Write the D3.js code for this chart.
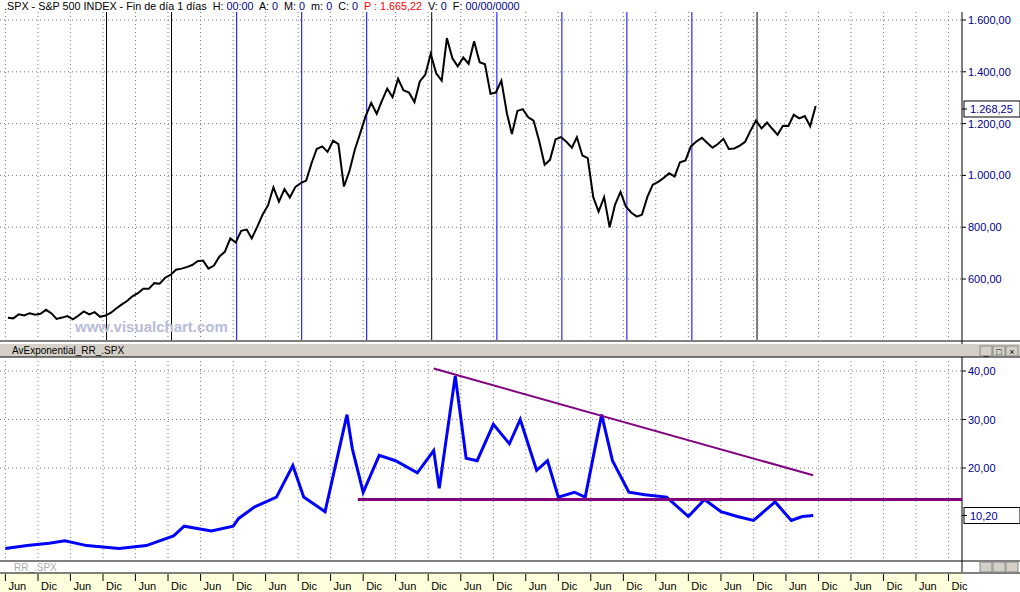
<!DOCTYPE html>
<html><head><meta charset="utf-8">
<script src="https://cdn.jsdelivr.net/npm/d3@7"></script>
<style>body{margin:0;background:#fff}text{font-family:Arial,"Liberation Sans",sans-serif}</style>
</head><body><div id="chart"></div>
<script>
// monthly S&P 500 closes, Jun 1993 .. Nov 2005
const priceStart = '1993-06'
const priceValues = [
  450, 448, 464, 459, 468, 462, 466,
  481, 467, 446, 451, 457, 444, 458, 475, 463, 472, 454, 459,
  470, 487, 501, 515, 533, 545, 562, 562, 584, 582, 605, 616,
  636, 640, 646, 654, 669, 671, 640, 652, 687, 705, 757, 741,
  786, 791, 757, 801, 848, 885, 954, 899, 947, 915, 955, 970,
  980, 1049, 1102, 1112, 1091, 1134, 1121, 957, 1017, 1099, 1164, 1229,
  1280, 1238, 1286, 1335, 1302, 1373, 1329, 1320, 1283, 1363, 1389, 1469,
  1394, 1366, 1530, 1452, 1421, 1455, 1431, 1518, 1437, 1429, 1315, 1320,
  1366, 1240, 1160, 1249, 1256, 1224, 1211, 1134, 1041, 1060, 1139, 1148,
  1130, 1107, 1147, 1077, 1067, 916, 860, 916, 800, 886, 936, 880,
  856, 841, 848, 917, 964, 975, 990, 1008, 996, 1051, 1058, 1112,
  1131, 1145, 1126, 1107, 1121, 1141, 1102, 1104, 1115, 1130, 1174, 1212,
  1181, 1204, 1181, 1157, 1192, 1191, 1234, 1220, 1229, 1190, 1268
]

// exponential average of volatility (RR_.SPX)
const volDates = ['1993-06','1993-10','1994-02','1994-05','1994-09','1995-03','1995-08','1996-01','1996-03','1996-08','1996-12','1997-01',
  '1997-04','1997-08','1997-11','1998-01','1998-05','1998-09','1998-10','1998-12','1999-03','1999-06','1999-10','2000-01','2000-02',
  '2000-05','2000-07','2000-09','2000-12','2001-03','2001-05','2001-08','2001-10','2001-12','2002-03','2002-05','2002-08','2002-10',
  '2003-01','2003-04','2003-08','2003-12','2004-03','2004-06','2004-09','2004-12','2005-04','2005-07','2005-09','2005-11']
const volValues = [3.4, 4, 4.5, 5, 4, 3.4, 4, 6, 8, 7, 8, 9.6,
  12, 14, 20.5, 14, 11, 31, 24, 15, 22.6, 21.5, 19, 23.6, 15.8,
  39, 22, 21.5, 29, 25, 30, 19.5, 21.5, 14, 15, 14, 31, 21.5,
  15, 14.5, 14, 10, 13.5, 11, 10, 9.2, 13, 9.2, 10, 10.2]

const colouredLines = [1995,1996,1997,1998,1999,2000,2001,2002,2003,2004,2005]
const blackLines = [1995,1996,2000,2005]
const priceTicks = [600,800,1000,1200,1400,1600]
const volTicks = [20,30,40]
const trendDown = [['2000-01', 40.5], ['2005-11', 18.5]]
const supportLevel = 13.5

const W = 1020, H = 592, axisX = 962
const parse = d3.timeParse('%Y-%m')
const fmt = d3.formatLocale({decimal: ',', thousands: '.', grouping: [3], currency: ['', '']}).format(',.2f')

const x = d3.scaleTime().domain([new Date(1993, 11, 1), new Date(1994, 11, 1)]).range([38, 103])
const yP = d3.scaleLinear().domain([600, 1600]).range([279, 20])
const yV = d3.scaleLinear().domain([20, 40]).range([468, 371])

const prices = priceValues.map((v, i) => {
  const d = parse(priceStart); d.setMonth(d.getMonth() + i, 15); return {d, v}
})
const vols = volDates.map((s, i) => ({d: parse(s), v: volValues[i]}))

const svg = d3.select('#chart').append('svg').attr('width', W).attr('height', H)
svg.append('rect').attr('width', W).attr('height', H).attr('fill', '#fff')

// half-year ticks
const halfTicks = []
for (let y = 1993; y <= 2008; y++) {
  halfTicks.push(new Date(y, 5, 1)); halfTicks.push(new Date(y, 11, 1))
}
const ticks = halfTicks.filter(t => x(t) >= 0 && x(t) < axisX)

function grid(g, y0, y1, hvals, ys) {
  g.selectAll('.v').data(ticks).join('line').attr('x1', d => x(d)).attr('x2', d => x(d))
    .attr('y1', y0).attr('y2', y1).attr('stroke', '#777').attr('stroke-dasharray', '1,3')
  g.append('g').selectAll('line').data(hvals).join('line').attr('x1', 0).attr('x2', axisX)
    .attr('y1', d => ys(d)).attr('y2', d => ys(d)).attr('stroke', '#777').attr('stroke-dasharray', '1,3')
}

// top panel
const topG = svg.append('g')
grid(topG.append('g'), 12, 340, priceTicks, yP)
topG.append('g').selectAll('line').data(colouredLines).join('line')
  .attr('x1', d => x(new Date(d, 0, 1)) - 2).attr('x2', d => x(new Date(d, 0, 1)) - 2)
  .attr('y1', 12).attr('y2', 340)
  .attr('stroke', d => blackLines.includes(d) ? '#000' : '#0000ff')
topG.append('text').attr('x', 75).attr('y', 332).attr('font-size', 15).attr('font-weight', 'bold')
  .attr('fill', '#b8bcd8').text('www.visualchart.com')
topG.append('path').datum(prices).attr('fill', 'none').attr('stroke', '#000').attr('stroke-width', 2)
  .attr('d', d3.line().x(d => x(d.d)).y(d => yP(d.v)))

// header
const hdr = svg.append('text').attr('x', 4).attr('y', 10).attr('font-size', 10.8)
const parts = [['.SPX - S&P 500 INDEX - Fin de día 1 días  H: ', '#000'], ['00:00', '#00008b'], ['  A: ', '#000'], ['0', '#00008b'],
  ['  M: ', '#000'], ['0', '#00008b'], ['  m: ', '#000'], ['0', '#00008b'], ['  C: ', '#000'], ['0', '#00008b'],
  ['  P : 1.665,22', '#ff0000'], ['  V: ', '#000'], ['0', '#00008b'], ['  F: ', '#000'], ['00/00/0000', '#00008b']]
parts.forEach(p => hdr.append('tspan').attr('fill', p[1]).attr('xml:space', 'preserve').text(p[0]))

// right price axis
svg.append('line').attr('x1', axisX).attr('x2', axisX).attr('y1', 12).attr('y2', 572).attr('stroke', '#000')
function axisLabels(vals, ys, f) {
  vals.forEach(v => {
    svg.append('line').attr('x1', axisX).attr('x2', axisX + 4).attr('y1', ys(v)).attr('y2', ys(v)).attr('stroke', '#000')
    svg.append('text').attr('x', axisX + 6).attr('y', ys(v) + 4).attr('font-size', 11).attr('fill', '#00008b').text(f(v))
  })
}
axisLabels(priceTicks, yP, fmt)
axisLabels(volTicks, yV, fmt)
function lastBox(y, label) {
  svg.append('rect').attr('x', axisX + 2).attr('y', y - 8).attr('width', 56).attr('height', 16).attr('fill', '#fff').attr('stroke', '#000')
  svg.append('line').attr('x1', axisX).attr('x2', axisX + 5).attr('y1', y).attr('y2', y).attr('stroke', '#000')
  svg.append('text').attr('x', axisX + 8).attr('y', y + 4).attr('font-size', 11).attr('fill', '#00008b').text(label)
}
lastBox(yP(priceValues[priceValues.length - 1]) + 3, fmt(1268.25))
lastBox(yV(volValues[volValues.length - 1]), fmt(10.2))

// panel separators
svg.append('line').attr('x1', 0).attr('x2', W).attr('y1', 341).attr('y2', 341).attr('stroke', '#000')
svg.append('rect').attr('x', 0).attr('y', 344).attr('width', W).attr('height', 13).attr('fill', '#d4d0c8')
svg.append('line').attr('x1', 0).attr('x2', W).attr('y1', 357).attr('y2', 357).attr('stroke', '#000')
svg.append('text').attr('x', 12).attr('y', 354).attr('font-size', 10).text('AvExponential_RR_.SPX')
;[980, 993, 1006].forEach((bx, i) => {
  svg.append('rect').attr('x', bx).attr('y', 346).attr('width', 12).attr('height', 10).attr('fill', '#d4d0c8').attr('stroke', '#888')
  svg.append('text').attr('x', bx + 6).attr('y', 355).attr('font-size', 9).attr('text-anchor', 'middle').text(['_', '□', '×'][i])
})

// lower panel
const bot = svg.append('g')
grid(bot.append('g'), 357, 560, volTicks, yV)
bot.append('path').datum(vols).attr('fill', 'none').attr('stroke', '#0000ff').attr('stroke-width', 3)
  .attr('d', d3.line().x(d => x(d.d)).y(d => yV(d.v)))
bot.append('line').attr('x1', x(parse(trendDown[0][0]))).attr('y1', yV(trendDown[0][1]))
  .attr('x2', x(parse(trendDown[1][0]))).attr('y2', yV(trendDown[1][1])).attr('stroke', '#800080').attr('stroke-width', 2)
bot.append('line').attr('x1', x(parse('1998-11'))).attr('x2', axisX).attr('y1', yV(supportLevel)).attr('y2', yV(supportLevel))
  .attr('stroke', '#800080').attr('stroke-width', 3)

// bottom strip and time axis
svg.append('line').attr('x1', 0).attr('x2', W).attr('y1', 561).attr('y2', 561).attr('stroke', '#000')
svg.append('text').attr('x', 14).attr('y', 571).attr('font-size', 10).attr('fill', '#aaa').text('RR_.SPX')
svg.append('rect').attr('x', 0).attr('y', 573).attr('width', axisX).attr('height', 19).attr('fill', '#ffffdc')
svg.append('line').attr('x1', 0).attr('x2', W).attr('y1', 573).attr('y2', 573).attr('stroke', '#000')
const xa = svg.append('g')
xa.selectAll('line').data(ticks).join('line').attr('x1', d => x(d)).attr('x2', d => x(d))
  .attr('y1', 574).attr('y2', 581).attr('stroke', '#000')
xa.selectAll('text').data(ticks).join('text').attr('x', d => x(d) + 3).attr('y', 590).attr('font-size', 11)
  .text(d => d.getMonth() === 5 ? 'Jun' : 'Dic')
svg.append('g').selectAll('rect').data([980, 993, 1006]).join('rect').attr('x', d => d).attr('y', 562)
  .attr('width', 12).attr('height', 10).attr('fill', '#d4d0c8').attr('stroke', '#888')
</script></body></html>
